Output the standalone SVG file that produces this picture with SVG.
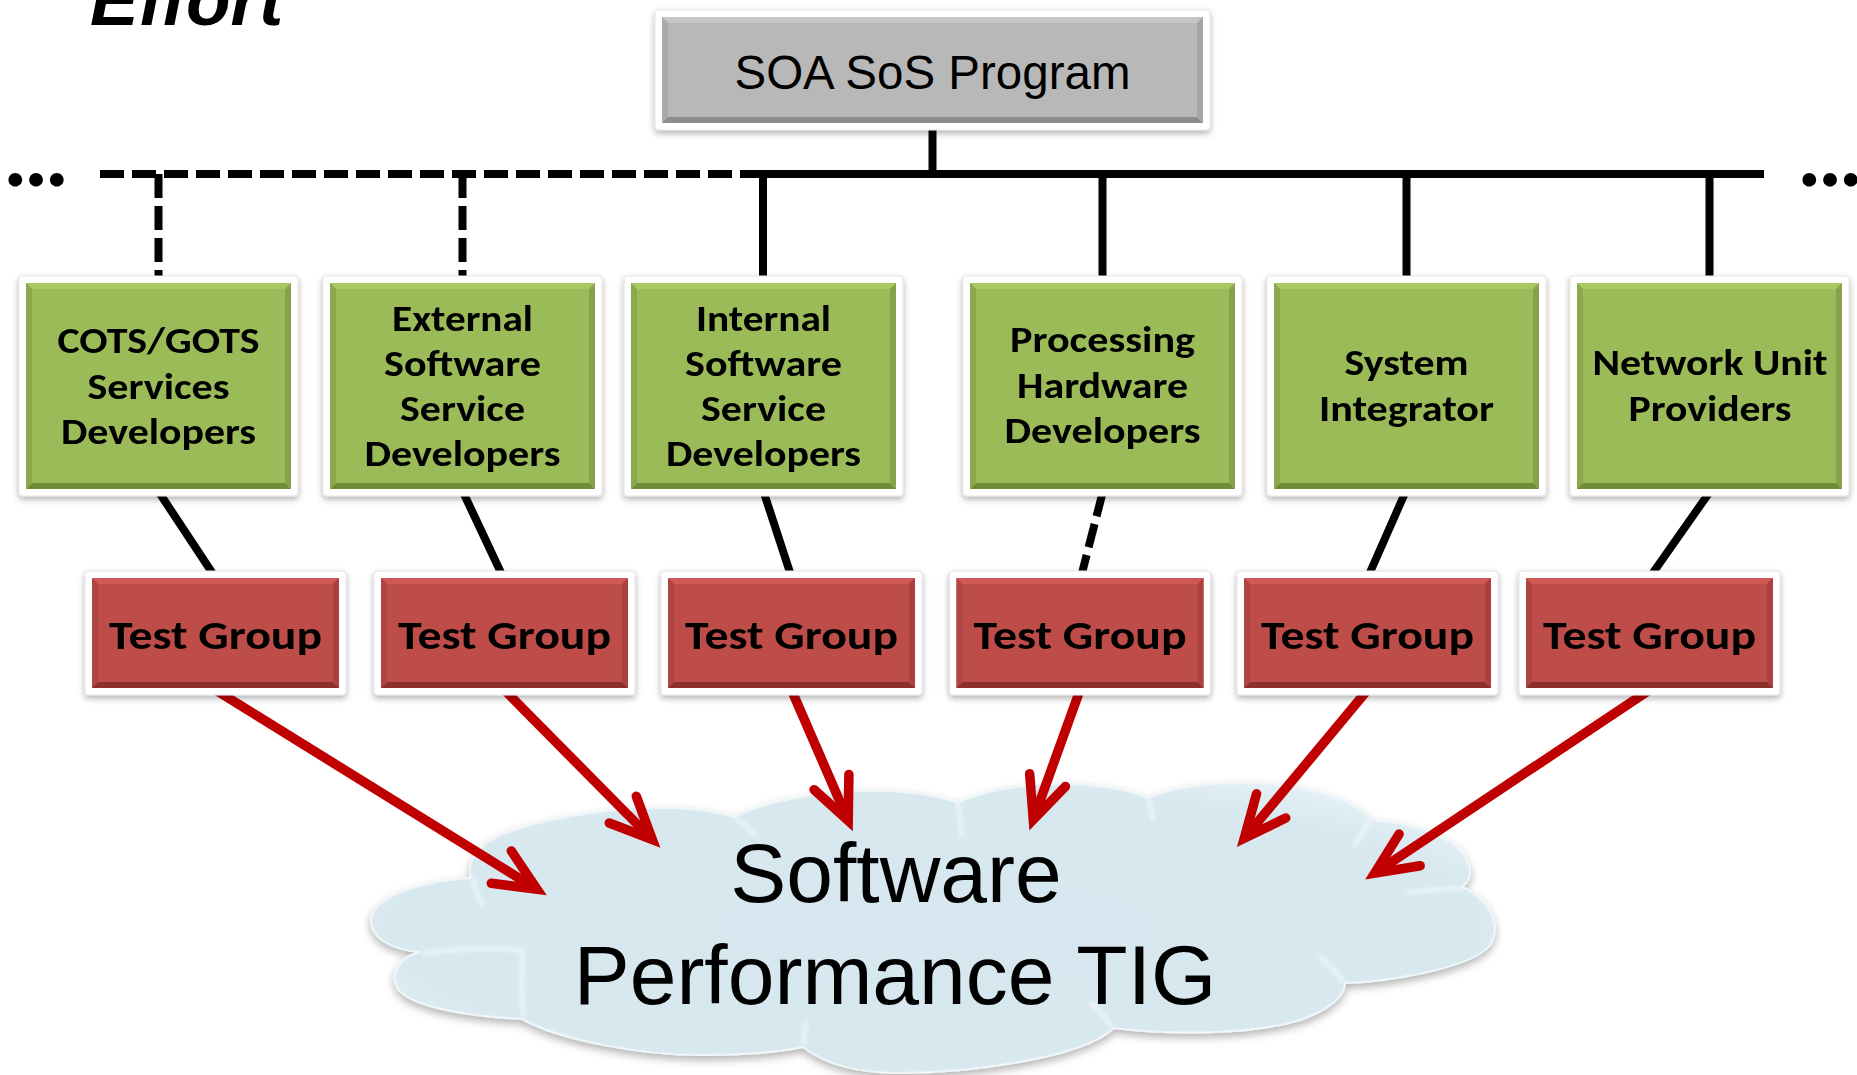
<svg xmlns="http://www.w3.org/2000/svg" xmlns:xlink="http://www.w3.org/1999/xlink" width="1857" height="1075" viewBox="0 0 1857 1075">
<style>
.blk{fill:none;stroke:#000;stroke-width:8}
.dash{stroke-dasharray:24 8}
.red{fill:none;stroke:#C00000;stroke-width:9.5;marker-end:url(#ah)}
.gt{font-family:Carlito,Lato,"Open Sans",sans-serif;font-weight:bold;font-size:37px;fill:#000;text-anchor:middle}
.rt{font-family:Carlito,Lato,"Open Sans",sans-serif;font-weight:bold;font-size:41px;fill:#000;text-anchor:middle}
.dots{font-family:Carlito,Lato,sans-serif;font-weight:900;font-size:92px;fill:#000}
.ar{font-family:"Liberation Sans",Arial,sans-serif;fill:#000}
.lobe{fill:none;stroke:#F4FAFC;stroke-width:4;stroke-linecap:round;opacity:0.8}
</style>
<defs>
<filter id="sh" x="-10%" y="-10%" width="120%" height="135%">
<feDropShadow dx="0" dy="3" stdDeviation="3" flood-color="#000" flood-opacity="0.3"/>
</filter>
<filter id="csh" x="-5%" y="-5%" width="110%" height="120%">
<feDropShadow dx="0" dy="4" stdDeviation="4" flood-color="#000" flood-opacity="0.3"/>
</filter>
<filter id="bl" x="-20%" y="-20%" width="140%" height="140%">
<feGaussianBlur stdDeviation="2"/>
</filter>
<radialGradient id="cg" cx="0.5" cy="0.5" r="0.6">
<stop offset="0" stop-color="#D6E7EF"/>
<stop offset="0.8" stop-color="#D8E8EF"/>
<stop offset="1" stop-color="#E6F2F7"/>
</radialGradient>
<marker id="ah" markerUnits="userSpaceOnUse" viewBox="0 0 70 70" markerWidth="70" markerHeight="70" refX="55" refY="35" orient="auto" overflow="visible">
<path d="M13,16 L55,35 L13,54" fill="none" stroke="#C00000" stroke-width="9.5" stroke-linecap="round" stroke-linejoin="miter" stroke-miterlimit="10"/>
</marker>
<g id="gbox">
<rect x="-7" y="-7" width="279" height="220" rx="3" fill="#fff" stroke="#e4e4e4" stroke-width="1" filter="url(#sh)"/>
<rect width="265" height="206" fill="#9BBB59"/>
<polygon points="0,0 265,0 259,6 6,6" fill="#A8C963"/>
<polygon points="0,206 265,206 259,200 6,200" fill="#6F8C3A"/>
<polygon points="0,0 6,6 6,200 0,206" fill="#8AA84E"/>
<polygon points="265,0 259,6 259,200 265,206" fill="#86A34B"/>
</g>
<g id="rbox">
<rect x="-7" y="-7" width="261" height="124" rx="3" fill="#fff" stroke="#e4e4e4" stroke-width="1" filter="url(#sh)"/>
<rect width="247" height="110" fill="#BE4C49"/>
<polygon points="0,0 247,0 241,6 6,6" fill="#D05956"/>
<polygon points="0,110 247,110 241,104 6,104" fill="#8C302D"/>
<polygon points="0,0 6,6 6,104 0,110" fill="#AE4542"/>
<polygon points="247,0 241,6 241,104 247,110" fill="#A9413E"/>
</g>
</defs>
<rect width="1857" height="1075" fill="#fff"/>

<text class="ar" x="90" y="25" font-size="73" font-weight="bold" font-style="italic">Effort</text>
<text class="dots" x="3" y="186" textLength="66" lengthAdjust="spacing">...</text>
<text class="dots" x="1797" y="186" textLength="66" lengthAdjust="spacing">...</text>

<g id="cloud">
<path filter="url(#csh)" fill="url(#cg)" stroke="#EEF6FA" stroke-width="2" d="M471,878 C430,880 372,895 371,920 C371,940 395,950 420,952 C398,958 392,972 396,985 C402,1003 450,1015 522,1019 C560,1040 640,1055 699,1055 C740,1055 780,1052 803,1047 C830,1068 870,1073 900,1073 C960,1073 1080,1060 1114,1028 C1170,1035 1250,1035 1300,1020 C1330,1010 1345,995 1345,983 C1380,982 1470,970 1490,945 C1502,925 1490,900 1462,887 C1478,875 1470,850 1437,835 C1420,827 1395,822 1371,820 C1360,805 1320,785 1250,783 C1210,782 1170,788 1149,798 C1120,786 1080,784 1060,784 C1020,784 980,792 958,803 C935,795 900,790 871,791 C800,792 760,805 735,817 C710,810 690,808 664,808 C600,808 539,820 500,835 C480,845 466,860 471,878 Z"/>
<g filter="url(#bl)">
<path class="lobe" d="M473,880 C476,890 478,898 482,905"/>
<path class="lobe" d="M424,953 C460,948 500,947 523,951 C521,975 521,1000 524,1016"/>
<path class="lobe" d="M803,1045 C804,1035 805,1028 806,1022"/>
<path class="lobe" d="M737,819 C745,825 750,830 755,836"/>
<path class="lobe" d="M958,805 C960,815 961,825 962,836"/>
<path class="lobe" d="M1149,800 C1151,808 1152,814 1153,820"/>
<path class="lobe" d="M1369,822 C1363,830 1359,838 1355,846"/>
<path class="lobe" d="M1460,888 C1440,889 1420,891 1406,893"/>
<path class="lobe" d="M1343,981 C1336,972 1328,964 1320,957"/>
<path class="lobe" d="M1112,1026 C1105,1018 1098,1010 1091,1003"/>
</g>
<text class="ar" x="896" y="902" font-size="84" text-anchor="middle">Software</text>
<text class="ar" x="895" y="1004" font-size="84" text-anchor="middle">Performance TIG</text>
</g>

<g id="connectors">
<path class="blk dash" d="M100,174 H930"/>
<path class="blk" d="M932.5,128 V174"/>
<path class="blk" d="M763,283 V174 H1764"/>
<path class="blk dash" d="M158.5,174 V283"/>
<path class="blk dash" d="M462.5,174 V283"/>
<path class="blk" d="M1102.5,174 V283"/>
<path class="blk" d="M1406.5,174 V283"/>
<path class="blk" d="M1709.5,174 V283"/>
<path class="blk" d="M159.5,493 L215,577"/>
<path class="blk" d="M463.5,493 L503,577"/>
<path class="blk" d="M764,493 L791.5,577"/>
<path class="blk dash" d="M1102.5,493 L1081,577"/>
<path class="blk" d="M1405,493 L1368,577"/>
<path class="blk" d="M1709,493 L1650,577"/>
<path class="red" d="M215.5,690 L537,889.2"/>
<path class="red" d="M504.5,690 L652.3,839.5"/>
<path class="red" d="M791.5,690 L848.2,820.6"/>
<path class="red" d="M1080,690 L1033.3,819.6"/>
<path class="red" d="M1367.5,690 L1244.3,838.2"/>
<path class="red" d="M1649.5,690 L1374.7,873.2"/>
</g>

<g id="soa">
<rect x="655" y="10" width="555" height="120" rx="3" fill="#fff" stroke="#e4e4e4" stroke-width="1" filter="url(#sh)"/>
<rect x="662" y="17" width="541" height="106" fill="#B8B8B8"/>
<polygon points="662,17 1203,17 1197,23 668,23" fill="#C6C6C6"/>
<polygon points="662,123 1203,123 1197,117 668,117" fill="#8C8C8C"/>
<polygon points="662,17 668,23 668,117 662,123" fill="#A9A9A9"/>
<polygon points="1203,17 1197,23 1197,117 1203,123" fill="#A5A5A5"/>
<text class="ar" x="932.5" y="89" font-size="47.5" text-anchor="middle">SOA SoS Program</text>
</g>

<g id="cots">
<use xlink:href="#gbox" x="26" y="283"/>
<text class="gt" x="158.5" y="353" textLength="202" lengthAdjust="spacingAndGlyphs">COTS/GOTS</text>
<text class="gt" x="158.5" y="398.5" textLength="142" lengthAdjust="spacingAndGlyphs">Services</text>
<text class="gt" x="158.5" y="444" textLength="195" lengthAdjust="spacingAndGlyphs">Developers</text>
</g>
<g id="external">
<use xlink:href="#gbox" x="330" y="283"/>
<text class="gt" x="462.5" y="331" textLength="141" lengthAdjust="spacingAndGlyphs">External</text>
<text class="gt" x="462.5" y="376" textLength="157" lengthAdjust="spacingAndGlyphs">Software</text>
<text class="gt" x="462.5" y="421" textLength="125" lengthAdjust="spacingAndGlyphs">Service</text>
<text class="gt" x="462.5" y="466" textLength="196" lengthAdjust="spacingAndGlyphs">Developers</text>
</g>
<g id="internal">
<use xlink:href="#gbox" x="631" y="283"/>
<text class="gt" x="763.5" y="331" textLength="135" lengthAdjust="spacingAndGlyphs">Internal</text>
<text class="gt" x="763.5" y="376" textLength="157" lengthAdjust="spacingAndGlyphs">Software</text>
<text class="gt" x="763.5" y="421" textLength="125" lengthAdjust="spacingAndGlyphs">Service</text>
<text class="gt" x="763.5" y="466" textLength="195" lengthAdjust="spacingAndGlyphs">Developers</text>
</g>
<g id="processing">
<use xlink:href="#gbox" x="970" y="283"/>
<text class="gt" x="1102.5" y="352" textLength="185" lengthAdjust="spacingAndGlyphs">Processing</text>
<text class="gt" x="1102.5" y="398" textLength="171" lengthAdjust="spacingAndGlyphs">Hardware</text>
<text class="gt" x="1102.5" y="443" textLength="196" lengthAdjust="spacingAndGlyphs">Developers</text>
</g>
<g id="system">
<use xlink:href="#gbox" x="1274" y="283"/>
<text class="gt" x="1406.5" y="375" textLength="124" lengthAdjust="spacingAndGlyphs">System</text>
<text class="gt" x="1406.5" y="421" textLength="175" lengthAdjust="spacingAndGlyphs">Integrator</text>
</g>
<g id="network">
<use xlink:href="#gbox" x="1577" y="283"/>
<text class="gt" x="1710" y="375" textLength="235" lengthAdjust="spacingAndGlyphs">Network Unit</text>
<text class="gt" x="1710" y="421" textLength="163" lengthAdjust="spacingAndGlyphs">Providers</text>
</g>

<g id="tg1"><use xlink:href="#rbox" x="92" y="578"/><text class="rt" x="215.5" y="649" textLength="213" lengthAdjust="spacingAndGlyphs">Test Group</text></g>
<g id="tg2"><use xlink:href="#rbox" x="381" y="578"/><text class="rt" x="504.5" y="649" textLength="213" lengthAdjust="spacingAndGlyphs">Test Group</text></g>
<g id="tg3"><use xlink:href="#rbox" x="668" y="578"/><text class="rt" x="791.5" y="649" textLength="213" lengthAdjust="spacingAndGlyphs">Test Group</text></g>
<g id="tg4"><use xlink:href="#rbox" x="956.5" y="578"/><text class="rt" x="1080" y="649" textLength="213" lengthAdjust="spacingAndGlyphs">Test Group</text></g>
<g id="tg5"><use xlink:href="#rbox" x="1244" y="578"/><text class="rt" x="1367.5" y="649" textLength="213" lengthAdjust="spacingAndGlyphs">Test Group</text></g>
<g id="tg6"><use xlink:href="#rbox" x="1526" y="578"/><text class="rt" x="1649.5" y="649" textLength="213" lengthAdjust="spacingAndGlyphs">Test Group</text></g>
</svg>
